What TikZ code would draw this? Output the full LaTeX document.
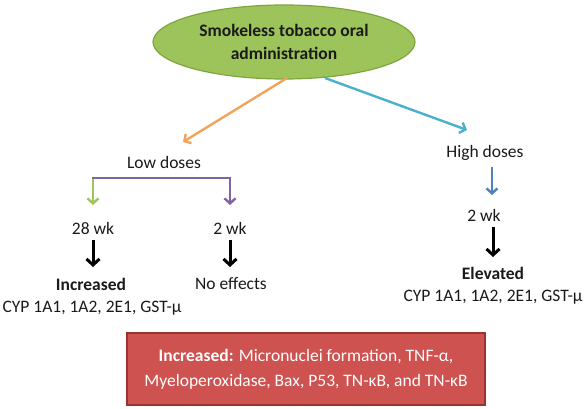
\documentclass[tikz,border=0pt]{standalone}
\usepackage{fontspec}
\setmainfont{Carlito}
\usetikzlibrary{arrows.meta,shapes.geometric}
\definecolor{ellfill}{HTML}{9DC45A}
\definecolor{elldraw}{HTML}{7FA63E}
\definecolor{orangeA}{HTML}{F2A45A}
\definecolor{tealA}{HTML}{4BB0CB}
\definecolor{greenA}{HTML}{9CC55C}
\definecolor{purpleA}{HTML}{8064A2}
\definecolor{steelA}{HTML}{4F81BD}
\definecolor{redfill}{HTML}{CD5250}
\definecolor{reddraw}{HTML}{9A3330}
\definecolor{txt}{HTML}{1A1A1A}
\tikzset{
  lbl/.style={font=\fontsize{17.5}{20}\selectfont, text=txt, inner sep=0pt, align=center},
  blbl/.style={lbl, font=\bfseries\fontsize{17.5}{20}\selectfont},
  carrow/.style={line width=2.4pt, -{Straight Barb[length=5pt,width=11pt,line width=2.4pt]}},
  barrow/.style={line width=3pt, black, -{Straight Barb[length=6pt,width=13pt,line width=3pt]}},
}
\begin{document}
\begin{tikzpicture}[x=1pt,y=-1pt]
\useasboundingbox (0,0) rectangle (587,409);
\node[ellipse, draw=elldraw, line width=1.2pt, fill=ellfill, minimum width=262pt, minimum height=74pt, inner sep=0pt,
  font=\bfseries\fontsize{17.5}{23}\selectfont, text=txt, align=center] (root) at (284,42) {Smokeless tobacco oral\\administration};
\node[lbl] (low) at (164,162) {Low doses};
\node[lbl] (high) at (485,153) {High doses};
\coordinate (lsplit) at (93,178);
\coordinate (rsplit) at (230,178);
\node[lbl] (w28) at (93,228) {28 wk};
\node[lbl] (w2a) at (230,228) {2 wk};
\node[lbl] (w2b) at (484,215) {2 wk};
\node[blbl] (inc) at (91,284) {Increased};
\node[lbl] (cyp1) at (92,308) {CYP 1A1, 1A2, 2E1, GST-μ};
\node[lbl] (noeff) at (231,284) {No effects};
\node[blbl] (elev) at (493,273) {Elevated};
\node[lbl] (cyp2) at (493,297) {CYP 1A1, 1A2, 2E1, GST-μ};
\node[draw=reddraw, line width=1.2pt, fill=redfill, minimum width=358pt, minimum height=72pt, inner sep=0pt,
  text=white, font=\fontsize{17.5}{25}\selectfont, align=center] (box) at (306,369)
  {\textbf{Increased:} Micronuclei formation, TNF-α,\\Myeloperoxidase, Bax, P53, TN-κB, and TN-κB};
% connectors
\coordinate (ot) at (183,142);
\coordinate (tt) at (467,130);
\draw[carrow, orangeA] (287,78) -- (ot);
\draw[carrow, tealA] (325,78) -- (tt);
\draw[line width=2.4pt, purpleA, line cap=rect] (lsplit) -- (rsplit);
\draw[carrow, greenA] ([yshift=-1.2pt]lsplit) -- (93,205);
\draw[carrow, purpleA] (rsplit) -- (230,205);
\draw[carrow, steelA] (492,167) -- (492,195);
\draw[barrow] (93,240) -- (93,267);
\draw[barrow] (230,240) -- (230,267);
\draw[barrow] (493,227) -- (493,257);
\end{tikzpicture}
\end{document}
